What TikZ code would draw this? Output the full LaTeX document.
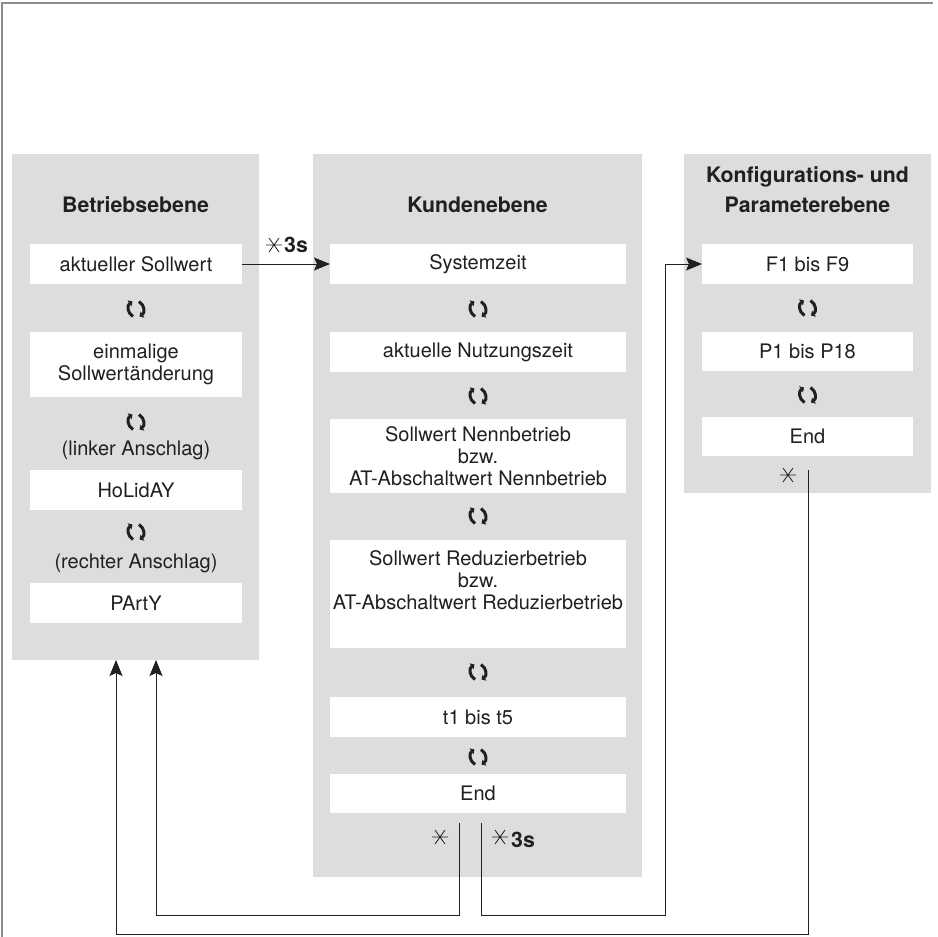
\documentclass[tikz,border=0pt]{standalone}
\usepackage{fontspec}
\setmainfont{TeX Gyre Heros}
\usetikzlibrary{arrows.meta,positioning}
\definecolor{panelgrau}{RGB}{220,221,223}
\definecolor{schrift}{RGB}{35,31,32}
\definecolor{rahmengrau}{RGB}{140,140,140}
\tikzset{
    %Define standard arrow tip
    >={Stealth[length=16pt,width=13pt,inset=3pt]},
    %Define style for the grey levels
    ebene/.style={
           rectangle,
           fill=panelgrau,
           inner sep=0pt,
           outer sep=0pt},
    %Define style for the white entries
    feld/.style={
           rectangle,
           fill=white,
           inner sep=0pt,
           outer sep=0pt,
           minimum width=#1,
           minimum height=40pt,
           align=center,
           text=schrift},
    feld/.default=296pt,
    titel/.style={
           font=\fontsize{21.3}{23}\selectfont\bfseries,
           align=center,
           text=schrift},
    notiz/.style={
           inner sep=0pt,
           text=schrift},
    % Define arrow style
    pfeil/.style={
           ->,
           line width=1pt,
           draw=schrift},
    % turn knob symbol
    knopf/.pic={
      \draw[line width=3pt,schrift,-{Triangle[length=3.5pt,width=7pt]}]
        (-3,7.5) .. controls (-9,4) and (-9,-4) .. (-3.5,-7.5);
      \draw[line width=3pt,schrift,-{Triangle[length=3.5pt,width=7pt]}]
        (3,-7.5) .. controls (9,-4) and (9,4) .. (3.5,7.5);
    },
    % push symbol
    stern/.pic={
      \draw[line width=0.8pt,schrift]
        (-8,0) -- (8,0) (-5,-7) -- (5,7) (-5,7) -- (5,-7);
    }
}
\begin{document}
\begin{tikzpicture}[x=1pt,y=-1pt]
  \fontsize{20}{22}\selectfont
  \useasboundingbox (0,0) rectangle (938,937);
  \draw[rahmengrau,line width=2pt] (2,937) -- (2,3) -- (933,3);
  % levels
  \node[ebene,minimum width=247pt,minimum height=506pt] (betrieb) at (135.5,407) {};
  \node[ebene,minimum width=329pt,minimum height=723pt] (kunden) at (477.5,515.5) {};
  \node[ebene,minimum width=247pt,minimum height=339pt] (konfig) at (807.5,323.5) {};
  \node[titel] (betriebtitel) at (135.5,205) {Betriebsebene};
  \node[titel] (kundentitel) at (477.5,205) {Kundenebene};
  \node[titel] (konfigtitel) at (807.5,190) {Konfigurations- und\\[7pt]Parameterebene};
  % Betriebsebene
  \node[feld=212pt] (soll) at (136,264) {aktueller Sollwert};
  \pic (k1) at (136,309) {knopf};
  \node[feld=212pt,minimum height=65pt] (einmal) at (136,364.5) {einmalige\\Sollwertänderung};
  \pic (k2) at (136,422) {knopf};
  \node[notiz] (linker) at (136,450) {(linker Anschlag)};
  \node[feld=212pt] (holiday) at (136,490) {HoLidAY};
  \pic (k3) at (136,532) {knopf};
  \node[notiz] (rechter) at (136,563) {(rechter Anschlag)};
  \node[feld=212pt] (party) at (136,603) {PArtY};
  % Kundenebene
  \node[feld] (systemzeit) at (478,264) {Systemzeit};
  \pic (k4) at (478,309) {knopf};
  \node[feld] (nutzung) at (478,352) {aktuelle Nutzungszeit};
  \pic (k5) at (478,396) {knopf};
  \node[feld,minimum height=74pt] (nenn) at (478,456)
    {Sollwert Nennbetrieb\\bzw.\\AT-Abschaltwert Nennbetrieb};
  \pic (k6) at (478,516) {knopf};
  \node[feld,minimum height=108pt] (reduzier) at (478,594)
    {Sollwert Reduzierbetrieb\\bzw.\\AT-Abschaltwert Reduzierbetrieb\\[6pt]~};
  \pic (k7) at (478,672) {knopf};
  \node[feld] (tbis) at (478,717) {t1 bis t5};
  \pic (k8) at (478,757) {knopf};
  \node[feld,minimum height=39pt] (endk) at (478,793.5) {End};
  \pic (s2) at (440,837) {stern};
  \pic (s3) at (500,837) {stern};
  \node[notiz,anchor=west,font=\fontsize{21.3}{23}\selectfont\bfseries] (zeit2) at (511,840) {3s};
  % Konfigurations- und Parameterebene
  \node[feld=211pt] (fbis) at (807.5,264) {F1 bis F9};
  \pic (k9) at (807.5,308) {knopf};
  \node[feld=211pt,minimum height=39pt] (pbis) at (807.5,351) {P1 bis P18};
  \pic (k10) at (807.5,395) {knopf};
  \node[feld=211pt,minimum height=39pt] (endp) at (807.5,436.5) {End};
  \pic (s4) at (788,475) {stern};
  % transitions
  \pic (s1) at (274,245) {stern};
  \node[notiz,anchor=west,font=\fontsize{21.3}{23}\selectfont\bfseries] (zeit1) at (284,245) {3s};
  \draw[pfeil] (soll) -- (systemzeit);
  \draw[pfeil] ([xshift=-19pt,yshift=-10pt]endk.south) -- ++(0,92)
    -| ([xshift=20.5pt]betrieb.south);
  \draw[pfeil] ([xshift=3pt,yshift=-10pt]endk.south) -- ++(0,92)
    -| ([xshift=-37pt]fbis.west) -- (fbis.west);
  \draw[pfeil] ([xshift=0.5pt,yshift=-14pt]endp.south) -- ++(0,464)
    -| ([xshift=-19.5pt]betrieb.south);
\end{tikzpicture}
\end{document}
